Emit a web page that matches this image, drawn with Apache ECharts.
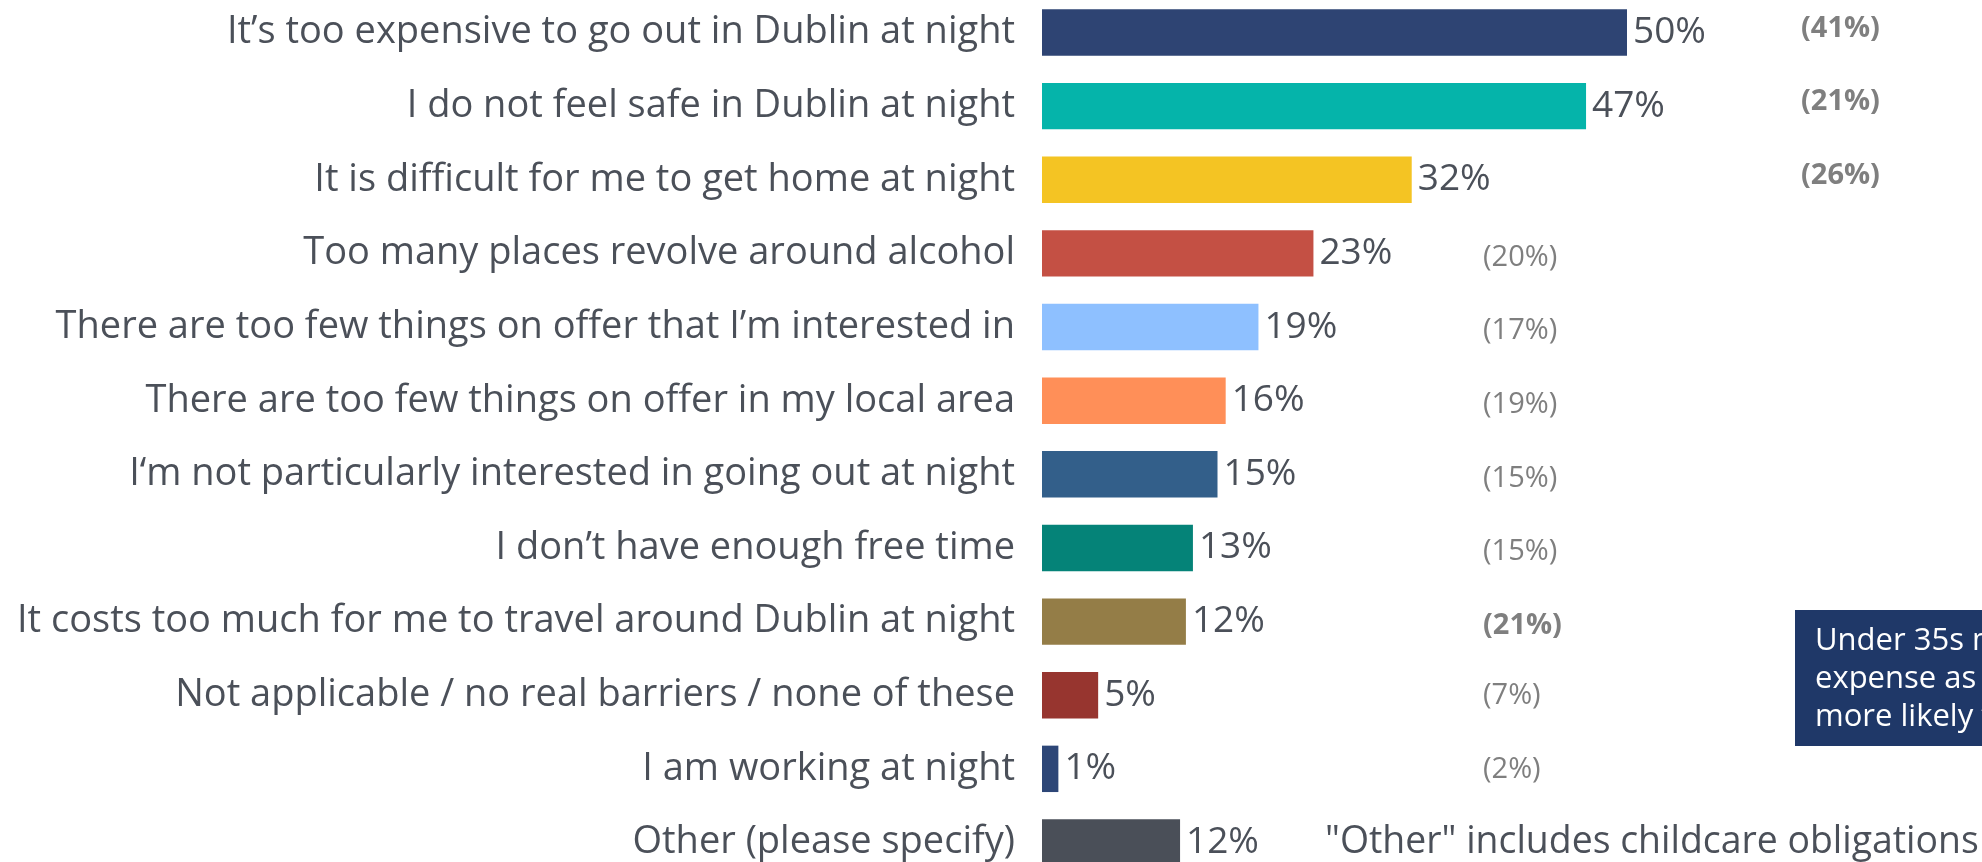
<!DOCTYPE html>
<html>
<head>
<meta charset="utf-8">
<script src="https://cdn.jsdelivr.net/npm/echarts@6/dist/echarts.min.js"></script>
<style>
  html, body { margin: 0; padding: 0; background: #fff; }
  #main { width: 1982px; height: 862px; }
</style>
</head>
<body>
<div id="main"></div>
<script>
// barriers to going out in Dublin at night
var categories = [
  'It\u2019s too expensive to go out in Dublin at night',
  'I do not feel safe in Dublin at night',
  'It is difficult for me to get home at night',
  'Too many places revolve around alcohol',
  'There are too few things on offer that I\u2019m interested in',
  'There are too few things on offer in my local area',
  'I\u2018m not particularly interested in going out at night',
  'I don\u2019t have enough free time',
  'It costs too much for me to travel around Dublin at night',
  'Not applicable / no real barriers / none of these',
  'I am working at night',
  'Other (please specify)'
];
var values = [50, 46.5, 31.6, 23.2, 18.5, 15.7, 15.0, 12.9, 12.3, 4.8, 1.4, 11.8];
// under 35s figures shown in brackets
var under35 = [41, 21, 26, 20, 17, 19, 15, 15, 21, 7, 2, null];
var highlighted = [true, true, true, false, false, false, false, false, true, false, false, false];
var barColors = ['#2E4473', '#05B4AA', '#F4C423', '#C45044', '#8EC0FF', '#FF8F58',
                 '#335F8A', '#058378', '#947D47', '#97352F', '#2D4677', '#4A4F58'];
var otherNote = '"Other" includes childcare obligations';
var calloutLines = ['Under 35s more likely to cite', 'expense as a barrier, and', 'more likely to feel unsafe'];

var textColor = '#4B5059';
var font = 'Open Sans';

var chart = echarts.init(document.getElementById('main'));

var under35Data = [];
for (var i = 0; i < under35.length; i++) {
  if (under35[i] !== null) under35Data.push([under35[i], i, highlighted[i] ? 1 : 0]);
}

var option = {
  animation: false,
  grid: { left: 1042, width: 936, top: -4.3, height: 883.6, outerBoundsMode: 'none', containLabel: false },
  xAxis: {
    type: 'value', min: 0, max: 80,
    show: false
  },
  yAxis: {
    type: 'category',
    inverse: true,
    data: categories,
    axisLine: { show: false },
    axisTick: { show: false },
    splitLine: { show: false },
    axisLabel: {
      margin: 27,
      fontSize: 38,
      fontFamily: font,
      color: textColor
    }
  },
  series: [
    {
      type: 'bar',
      barWidth: 46.4,
      data: values.map(function (v, i) {
        return { value: v, itemStyle: { color: barColors[i] } };
      }),
      label: {
        show: true,
        position: 'right',
        distance: 6,
        fontSize: 37,
        fontFamily: font,
        color: textColor,
        formatter: function (p) { return Math.round(p.value) + '%'; }
      }
    },
    {
      type: 'custom',
      data: under35Data,
      encode: { x: 0, y: 1 },
      renderItem: function (params, api) {
        var idx = api.value(1);
        var y = api.coord([0, idx])[1];
        var bold = api.value(2) === 1;
        // the bracket column sits a little off the bar centre in the original
        var x = idx < 3 ? 1801 : 1483;
        var dy = idx < 3 ? -4 : (idx < 9 ? 4 : 1);
        return {
          type: 'text',
          x: x,
          y: y + dy,
          style: {
            text: '(' + api.value(0) + '%)',
            fill: '#7F7F7F',
            fontSize: 29,
            fontFamily: font,
            fontWeight: bold ? 'bold' : 'normal',
            align: 'left',
            verticalAlign: 'middle'
          }
        };
      }
    }
  ],
  graphic: [
    {
      type: 'text',
      left: 1325,
      top: 824,
      style: {
        text: otherNote,
        fill: textColor,
        fontSize: 37.4,
        fontFamily: font
      }
    },
    {
      type: 'group',
      left: 1795,
      top: 610,
      children: [
        {
          type: 'rect',
          shape: { x: 0, y: 0, width: 400, height: 136 },
          style: { fill: '#1F3868' }
        },
        {
          type: 'text',
          x: 20,
          y: 12,
          style: {
            text: calloutLines.join('\n'),
            fill: '#FFFFFF',
            fontSize: 31,
            lineHeight: 38,
            fontFamily: font
          }
        }
      ]
    }
  ]
};

chart.setOption(option);
</script>
</body>
</html>
